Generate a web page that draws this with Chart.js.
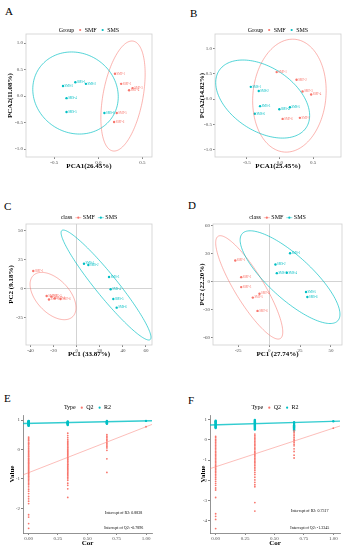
<!DOCTYPE html>
<html>
<head>
<meta charset="utf-8">
<script src="https://cdn.jsdelivr.net/npm/chart.js@4.4.1/dist/chart.umd.min.js"></script>
<style>
    body { margin: 0; background: #fff; width: 346px; height: 550px; position: relative; overflow: hidden; }
    canvas { position: absolute; }
    .tag { position: absolute; font-family: "Liberation Serif", serif; font-size: 11px; line-height: 1; color: #000; }
</style>
</head>
<body>
<div class="tag" style="left:5px;top:5.5px">A</div>
<div class="tag" style="left:190px;top:7.5px">B</div>
<div class="tag" style="left:4px;top:201px">C</div>
<div class="tag" style="left:188px;top:200px">D</div>
<div class="tag" style="left:4px;top:393px">E</div>
<div class="tag" style="left:188px;top:395px">F</div>

<canvas id="chartA" width="170" height="150" style="left:0;top:22px"></canvas>
<canvas id="chartB" width="176" height="150" style="left:170px;top:22px"></canvas>
<canvas id="chartC" width="170" height="155" style="left:0;top:205px"></canvas>
<canvas id="chartD" width="176" height="155" style="left:170px;top:205px"></canvas>
<canvas id="chartE" width="170" height="155" style="left:0;top:395px"></canvas>
<canvas id="chartF" width="176" height="155" style="left:170px;top:395px"></canvas>

<script>
// ---- data ----
const smfNames = ['SMF-1', 'SMF-2', 'SMF-3', 'SMF-4', 'SMF-5', 'SMF-6'];
const smsNames = ['SMS-1', 'SMS-2', 'SMS-3', 'SMS-4', 'SMS-5', 'SMS-6'];

// A: PCA scores [PCA1, PCA2]
const aTicksX = [-0.5, 0, 0.5];
const aTicksY = [-1, -0.5, 0, 0.5, 1];
const aSMF = [[0.19, 0.42], [0.26, 0.23], [0.39, 0.15], [0.35, 0.11], [0.21, -0.32], [0.18, -0.49]];
const aSMS = [[-0.26, 0.26], [-0.14, 0.23], [-0.40, 0.19], [-0.36, -0.04], [-0.36, -0.30], [0.07, -0.32]];
// ellipses: [centre x, centre y, top point dx, top point dy, half width at centre]
const aEllSMF = [0.281, 0, 0.101, 1.038, 0.23];
const aEllSMS = [-0.258, 0.057, -0.045, 0.774, 0.483];

// B
const bTicksX = [-0.5, 0, 0.5];
const bTicksY = [-1, -0.5, 0, 0.5, 1];
const bSMF = [[-0.05, 0.53], [0.25, 0.38], [0.34, 0.15], [0.47, 0.09], [0.30, -0.37], [0.04, -0.39]];
const bSMS = [[-0.44, 0.24], [-0.32, 0.16], [-0.30, -0.14], [-0.01, -0.20], [0.15, -0.16], [-0.38, -0.29]];
const bEllSMF = [0.142, 0.067, 0.049, 1.111, 0.552];
const bEllSMS = [-0.261, 0, -0.299, 0.768, 0.642];

// C: PLS-DA scores
const cTicksX = [-40, -20, 0, 20, 40, 60];
const cTicksY = [-25, 0, 25, 50];
const cSMF = [[-37.6, 15.1], [-26, -6.5], [-22, -7], [-19, -8.5], [-24, -9.5], [-14, -9]];
const cSMS = [[6.3, 21.4], [10.1, 20.3], [28, 9.9], [29.4, -0.7], [31.7, -9.1], [34.6, -16.5]];
const cEllSMF = [-20.5, -6.5, -9.8, 20.4, 17.3];
const cEllSMS = [25.4, 3.0, -37.0, 47.4, 12.1];

// D
const dTicksX = [-25, 0, 25, 50];
const dTicksY = [-60, -30, 0, 30, 60];
const dSMF = [[-27.4, 22.5], [-22.6, 4.6], [-22.6, -6.1], [-7.8, -13.2], [-13.2, -17.4], [-9.4, -31.7]];
const dSMS = [[16.9, 30.3], [5.1, 18.2], [6.2, 8.9], [14.3, 9.3], [29.8, -11.4], [30.9, -16.8]];
const dEllSMF = [-16.1, -6.4, -23.4, 55.6, 13.7];
const dEllSMS = [16.9, 4.6, -32.3, 49.9, 24.2];

// E/F: permutation tests, values per correlation level
const corLevels = [0, 0.3333, 0.6667];
const permTicksX = [0, 0.25, 0.5, 0.75, 1];
const eTicksY = [-2, -1, 0, 1];
const eQ2 = [
    [0.42, 0.38, 0.33, 0.3, 0.25, 0.21, 0.18, 0.12, 0.08, 0.03, -0.02, -0.06, -0.1, -0.14, -0.18, -0.22, -0.25, -0.3, -0.33, -0.37, -0.4, -0.44, -0.47, -0.5, -0.54, -0.58, -0.61, -0.65, -0.68, -0.72, -0.75, -0.79, -0.82, -0.86, -0.9, -0.93, -0.97, -1.01, -1.05, -1.1, -1.15, -1.2, -1.27, -1.35, -1.42, -1.5, -1.6, -1.68, -1.76, -1.84, -2.22, -2.3, -2.52, -2.68],
    [0.55, 0.47, 0.4, 0.33, 0.28, 0.24, 0.2, 0.16, 0.12, 0.08, 0.05, 0.01, -0.03, -0.07, -0.1, -0.14, -0.17, -0.21, -0.25, -0.28, -0.32, -0.35, -0.39, -0.42, -0.46, -0.5, -0.53, -0.57, -0.61, -0.65, -0.69, -0.73, -0.77, -0.81, -0.86, -0.9, -0.95, -1.0, -1.05, -1.15, -1.22, -1.34, -1.63],
    [0.5, 0.45, 0.4, 0.35, 0.3, 0.25, 0.2, 0.15, 0.1, 0.05, -0.03, -0.32, -0.78]
];
const eR2 = [
    [0.8, 0.82, 0.84, 0.85, 0.86, 0.87, 0.88, 0.89, 0.9, 0.91, 0.92, 0.93, 0.94, 0.95, 0.96, 0.97],
    [0.83, 0.85, 0.87, 0.88, 0.89, 0.9, 0.91, 0.92, 0.93, 0.95],
    [0.87, 0.89, 0.9, 0.92, 0.93, 0.95, 0.97]
];
const eModel = [0.77, 0.97];          // Q2, R2 of the real model (cor = 1)
const eIntercepts = [-0.7896, 0.8838]; // Q2, R2

const fTicksY = [-4, -3, -2, -1, 0, 1];
const fQ2 = [
    [0.17, 0.1, 0.02, -0.05, -0.12, -0.2, -0.27, -0.35, -0.42, -0.5, -0.57, -0.64, -0.71, -0.78, -0.85, -0.92, -0.99, -1.06, -1.13, -1.2, -1.27, -1.34, -1.41, -1.48, -1.55, -1.62, -1.7, -1.78, -1.86, -1.95, -2.05, -2.15, -2.25, -2.38, -2.48, -2.85, -3.65, -3.78, -3.93, -4.38],
    [0.28, 0.2, 0.13, 0.06, -0.01, -0.08, -0.15, -0.22, -0.29, -0.36, -0.43, -0.5, -0.57, -0.64, -0.71, -0.78, -0.85, -0.92, -0.99, -1.06, -1.13, -1.2, -1.28, -1.36, -1.44, -1.52, -1.62, -1.72, -1.85, -1.98, -2.1, -2.22, -2.32, -3.1, -3.52],
    [0.44, 0.36, 0.28, 0.2, 0.11, 0.03, -0.05, -0.13, -0.22, -0.3, -0.45, -0.58, -0.76, -0.9]
];
const fR2 = [
    [0.58, 0.62, 0.66, 0.7, 0.73, 0.76, 0.79, 0.82, 0.85, 0.88, 0.91, 0.94],
    [0.5, 0.55, 0.6, 0.65, 0.7, 0.74, 0.78, 0.82, 0.86, 0.9, 0.94, 0.97],
    [0.45, 0.5, 0.56, 0.62, 0.67, 0.72, 0.77, 0.82, 0.87]
];
const fModel = [0.57, 0.91];
const fIntercepts = [-1.3345, 0.7317];

// ---- styling ----
Chart.defaults.font.family = '"Liberation Serif", "Times New Roman", serif';
Chart.defaults.color = '#4d4d4d';
const RED = '#F8766D';
const CYAN = '#00BFC4';

// ---- plugins ----
const framePlugin = {
    id: 'frame',
    beforeDatasetsDraw(chart, args, opts) {
        if (!opts.color) return;
        const { ctx, chartArea: a } = chart;
        ctx.save();
        ctx.strokeStyle = opts.color;
        ctx.lineWidth = 0.8;
        ctx.strokeRect(a.left, a.top, a.width, a.height);
        ctx.restore();
    }
};

const ellipsePlugin = {
    id: 'ellipses',
    afterDatasetsDraw(chart, args, opts) {
        const { ctx, chartArea: a, scales: { x, y } } = chart;
        ctx.save();
        ctx.beginPath();
        ctx.rect(a.left, a.top, a.width, a.height);
        ctx.clip();
        (opts.list || []).forEach(e => {
            const [cx, cy, dx, dy, w] = e.shape;
            ctx.beginPath();
            for (let i = 0; i <= 144; i++) {
                const t = i / 144 * Math.PI * 2;
                const px = x.getPixelForValue(cx + dx * Math.cos(t) + w * Math.sin(t));
                const py = y.getPixelForValue(cy + dy * Math.cos(t));
                if (i === 0) ctx.moveTo(px, py); else ctx.lineTo(px, py);
            }
            ctx.strokeStyle = e.color;
            ctx.lineWidth = 0.9;
            ctx.stroke();
        });
        ctx.restore();
    }
};

const namePlugin = {
    id: 'pointNames',
    afterDatasetsDraw(chart) {
        const ctx = chart.ctx;
        chart.data.datasets.forEach((ds, i) => {
            if (!ds.names) return;
            const meta = chart.getDatasetMeta(i);
            ctx.save();
            ctx.font = '3px "Liberation Serif"';
            ctx.fillStyle = ds.backgroundColor;
            ctx.textBaseline = 'middle';
            meta.data.forEach((pt, j) => ctx.fillText(ds.names[j], pt.x + 1.6, pt.y));
            ctx.restore();
        });
    }
};

const ablinePlugin = {
    id: 'ablines',
    afterDatasetsDraw(chart, args, opts) {
        const { ctx, chartArea: a, scales: { x, y } } = chart;
        ctx.save();
        ctx.beginPath();
        ctx.rect(a.left, a.top, a.width, a.height);
        ctx.clip();
        (opts.list || []).forEach(l => {
            // line through (0, intercept) and (1, model value)
            const slope = l.model - l.intercept;
            ctx.beginPath();
            ctx.moveTo(x.getPixelForValue(x.min), y.getPixelForValue(l.intercept + slope * x.min));
            ctx.lineTo(x.getPixelForValue(x.max), y.getPixelForValue(l.intercept + slope * x.max));
            ctx.strokeStyle = l.color;
            ctx.lineWidth = l.width;
            ctx.stroke();
        });
        ctx.restore();
    }
};

const notePlugin = {
    id: 'notes',
    afterDraw(chart, args, opts) {
        const { ctx, scales: { x, y } } = chart;
        ctx.save();
        ctx.font = '4px "Liberation Serif"';
        ctx.fillStyle = '#000';
        ctx.textAlign = 'center';
        ctx.textBaseline = 'middle';
        (opts.list || []).forEach(n => ctx.fillText(n.text, x.getPixelForValue(n.x), y.getPixelForValue(n.y)));
        ctx.restore();
    }
};

// ggplot-style legend on one line above the panel
const keyPlugin = {
    id: 'ggKey',
    afterDraw(chart, args, opts) {
        const { ctx, chartArea } = chart;
        const items = chart.data.datasets.filter(d => d.inKey);
        ctx.save();
        ctx.font = '6px "Liberation Serif"';
        ctx.textBaseline = 'middle';
        const gap = 3, keyW = 6;
        let total = ctx.measureText(opts.title).width;
        items.forEach(d => total += gap + keyW + 1.5 + ctx.measureText(d.label).width);
        let xPos = (chartArea.left + chartArea.right) / 2 - total / 2;
        const yPos = opts.y;
        ctx.fillStyle = '#000';
        ctx.fillText(opts.title, xPos, yPos);
        xPos += ctx.measureText(opts.title).width;
        items.forEach(d => {
            xPos += gap;
            if (opts.line) {
                ctx.strokeStyle = d.backgroundColor;
                ctx.globalAlpha = 0.6;
                ctx.lineWidth = 0.8;
                ctx.beginPath();
                ctx.moveTo(xPos, yPos);
                ctx.lineTo(xPos + keyW, yPos);
                ctx.stroke();
                ctx.globalAlpha = 1;
            }
            ctx.fillStyle = d.backgroundColor;
            ctx.beginPath();
            ctx.arc(xPos + keyW / 2, yPos, 1.1, 0, Math.PI * 2);
            ctx.fill();
            xPos += keyW + 1.5;
            ctx.fillStyle = '#000';
            ctx.fillText(d.label, xPos, yPos);
            xPos += ctx.measureText(d.label).width;
        });
        ctx.restore();
    }
};

// ---- helpers ----
function axis(pos, min, max, ticks, fmt, title, size, titlePad, opts = {}) {
    return {
        type: 'linear', position: pos, min, max,
        afterBuildTicks: s => { s.ticks = ticks.map(v => ({ value: v })); },
        afterFit: s => { if (pos === 'left') s.width = size; else s.height = size; },
        ticks: { font: { size: 5 }, color: '#4d4d4d', padding: 1, autoSkip: false, maxRotation: 0, callback: fmt },
        grid: {
            drawOnChartArea: !!opts.zero,
            color: c => (opts.zero && c.tick && c.tick.value === 0) ? '#c8c8c8' : 'rgba(0,0,0,0)',
            tickColor: '#666', tickLength: 2, lineWidth: 0.8
        },
        border: { display: !!opts.border, color: '#777', width: 0.8 },
        title: {
            display: true, text: title, color: '#000',
            font: { size: 7, weight: 'bold' },
            padding: pos === 'left' ? { top: titlePad, bottom: 0 } : { top: 0, bottom: titlePad }
        }
    };
}

function points(label, pairs, names, color, r) {
    return {
        label, names, inKey: true,
        data: pairs.map(([x, y]) => ({ x, y })),
        backgroundColor: color, borderWidth: 0, pointRadius: r
    };
}

function permPoints(label, columns, model, color, r) {
    const data = [];
    columns.forEach((vals, k) => vals.forEach(v => data.push({ x: corLevels[k], y: v })));
    data.push({ x: 1, y: model });
    return { label, inKey: true, data, backgroundColor: color, borderWidth: 0, pointRadius: r };
}

const fmt1 = v => v.toFixed(1);
const fmt0 = v => String(v);
const fmt2 = v => v.toFixed(2);

function drawPanel(id, cfg) {
    return new Chart(document.getElementById(id), {
        type: 'scatter',
        data: { datasets: cfg.datasets },
        options: {
            responsive: false, animation: false, events: [],
            layout: { padding: cfg.pad },
            plugins: {
                legend: { display: false },
                tooltip: { enabled: false },
                frame: { color: cfg.frame },
                ellipses: { list: cfg.ellipses || [] },
                ablines: { list: cfg.lines || [] },
                notes: { list: cfg.notes || [] },
                ggKey: cfg.key
            },
            scales: { x: cfg.x, y: cfg.y }
        },
        plugins: [framePlugin, ellipsePlugin, namePlugin, ablinePlugin, notePlugin, keyPlugin]
    });
}

const ellRed = 'rgba(248,118,109,0.6)';
const ellCyan = 'rgba(0,191,196,0.75)';

// ---- panels ----
drawPanel('chartA', {
    pad: { left: 0, top: 12, right: 18, bottom: 0 },
    frame: '#cfcfcf',
    key: { title: 'Group', y: 8 },
    datasets: [points('SMF', aSMF, smfNames, RED, 1.2), points('SMS', aSMS, smsNames, CYAN, 1.2)],
    ellipses: [{ shape: aEllSMF, color: ellRed }, { shape: aEllSMS, color: ellCyan }],
    x: axis('bottom', -0.82, 0.61, aTicksX, fmt1, 'PCA1(26.45%)', 15, 1.8),
    y: axis('left', -1.15, 1.17, aTicksY, fmt1, 'PCA2(11.08%)', 26, 5.8)
});

drawPanel('chartB', {
    pad: { left: 22, top: 12, right: 5, bottom: 0 },
    frame: '#cfcfcf',
    key: { title: 'Group', y: 8 },
    datasets: [points('SMF', bSMF, smfNames, RED, 1.2), points('SMS', bSMS, smsNames, CYAN, 1.2)],
    ellipses: [{ shape: bEllSMF, color: ellRed }, { shape: bEllSMS, color: ellCyan }],
    x: axis('bottom', -0.98, 0.92, bTicksX, fmt1, 'PCA1(25.45%)', 15, 1.8),
    y: axis('left', -1.14, 1.28, bTicksY, fmt1, 'PCA2(14.82%)', 23, 5.5)
});

drawPanel('chartC', {
    pad: { left: 0, top: 19, right: 18, bottom: 0 },
    frame: '#cfcfcf',
    key: { title: 'class', y: 12.7, line: true },
    datasets: [points('SMF', cSMF, smfNames, RED, 1.2), points('SMS', cSMS, smsNames, CYAN, 1.2)],
    ellipses: [{ shape: cEllSMF, color: ellRed }, { shape: cEllSMS, color: ellCyan }],
    x: axis('bottom', -43.9, 65.2, cTicksX, fmt0, 'PC1 (33.87%)', 15, 1.8, { zero: true }),
    y: axis('left', -48.7, 55.6, cTicksY, fmt0, 'PC2 (9.18%)', 26, 7, { zero: true })
});

drawPanel('chartD', {
    pad: { left: 22, top: 19, right: 4, bottom: 0 },
    frame: '#cfcfcf',
    key: { title: 'class', y: 12.7, line: true },
    datasets: [points('SMF', dSMF, smfNames, RED, 1.2), points('SMS', dSMS, smsNames, CYAN, 1.2)],
    ellipses: [{ shape: dEllSMF, color: ellRed }, { shape: dEllSMS, color: ellCyan }],
    x: axis('bottom', -45.4, 58.9, dTicksX, fmt0, 'PC1 (27.74%)', 15, 1.8, { zero: true }),
    y: axis('left', -68.4, 61.8, dTicksY, fmt0, 'PC2 (22.20%)', 21, 5.5, { zero: true })
});

drawPanel('chartE', {
    pad: { left: 0, top: 20, right: 18, bottom: 0 },
    key: { title: 'Type', y: 12.7 },
    datasets: [permPoints('Q2', eQ2, eModel[0], RED, 0.9), permPoints('R2', eR2, eModel[1], CYAN, 1.2)],
    lines: [
        { intercept: eIntercepts[0], model: eModel[0], color: 'rgba(248,118,109,0.6)', width: 0.8 },
        { intercept: eIntercepts[1], model: eModel[1], color: 'rgba(0,191,196,0.8)', width: 1.4 }
    ],
    notes: [
        { text: 'Intercept of R2: ' + eIntercepts[1], x: 0.81, y: -2.15 },
        { text: 'Intercept of Q2: ' + eIntercepts[0], x: 0.81, y: -2.68 }
    ],
    x: axis('bottom', -0.048, 1.051, permTicksX, fmt2, 'Cor', 17, 3.1, { border: true }),
    y: axis('left', -2.84, 1.17, eTicksY, fmt0, 'Value', 23, 7.5, { border: true })
});

drawPanel('chartF', {
    pad: { left: 25, top: 20, right: 6, bottom: 0 },
    key: { title: 'Type', y: 12.7 },
    datasets: [permPoints('Q2', fQ2, fModel[0], RED, 0.9), permPoints('R2', fR2, fModel[1], CYAN, 1.2)],
    lines: [
        { intercept: fIntercepts[0], model: fModel[0], color: 'rgba(248,118,109,0.6)', width: 0.8 },
        { intercept: fIntercepts[1], model: fModel[1], color: 'rgba(0,191,196,0.8)', width: 1.4 }
    ],
    notes: [
        { text: 'Intercept of R2: ' + fIntercepts[1], x: 0.80, y: -3.51 },
        { text: 'Intercept of Q2: ' + fIntercepts[0], x: 0.80, y: -4.37 }
    ],
    x: axis('bottom', -0.048, 1.057, permTicksX, fmt2, 'Cor', 17, 3.1, { border: true }),
    y: axis('left', -4.6, 1.22, fTicksY, fmt0, 'Value', 15, 3.5, { border: true })
});
</script>
</body>
</html>
